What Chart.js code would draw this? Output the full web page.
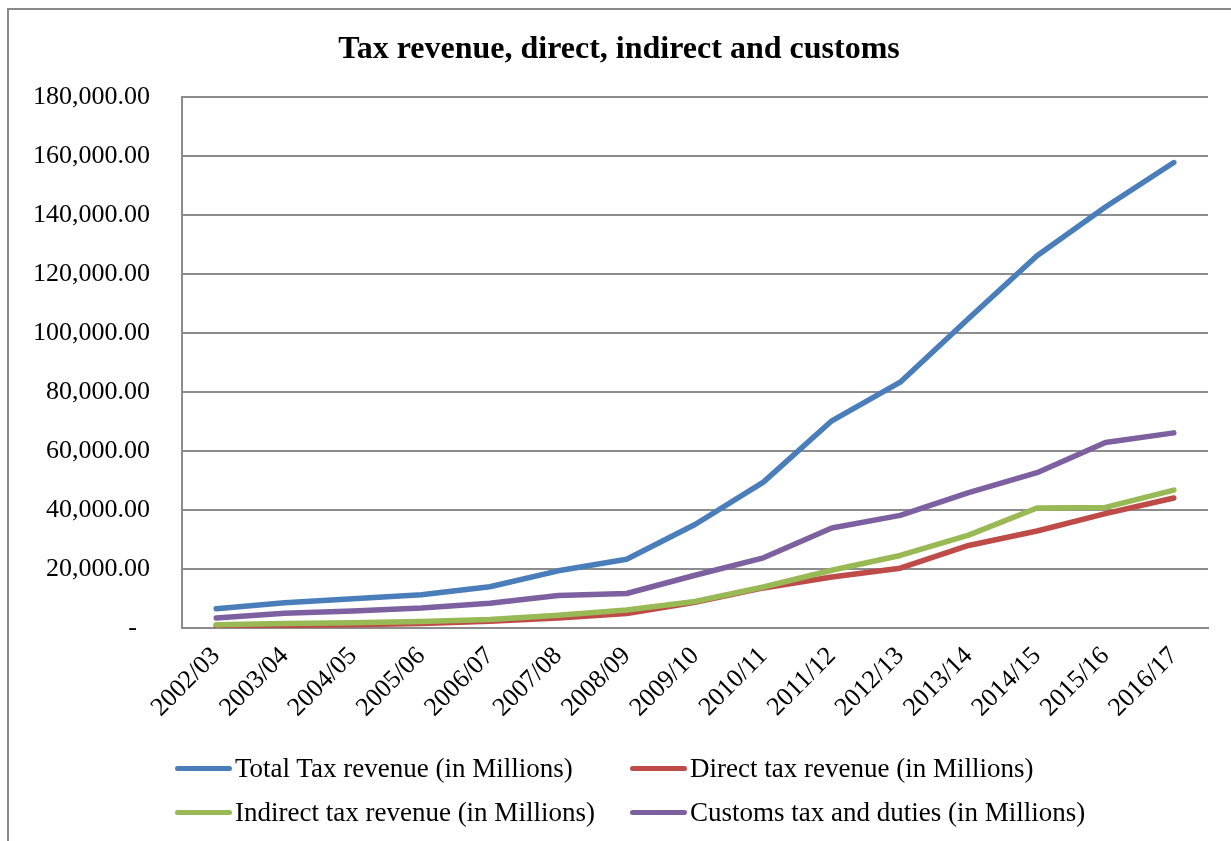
<!DOCTYPE html>
<html>
<head>
<meta charset="utf-8">
<title>Tax revenue, direct, indirect and customs</title>
<script src="https://cdn.jsdelivr.net/npm/chart.js@4/dist/chart.umd.min.js"></script>
<style>
  html, body { margin: 0; padding: 0; background: #fff; overflow: hidden; }
  #wrap { position: relative; width: 1231px; height: 841px; overflow: hidden; }
  #frame {
    position: absolute; left: 7px; top: 8px; width: 1300px; height: 900px;
    border: 2px solid #898989; box-sizing: border-box;
  }
  #chart { position: absolute; left: 0; top: 0; }
  #legend {
    position: absolute; left: 175px; top: 746px;
    display: grid; grid-template-columns: 455px 455px;
    font-family: "Liberation Serif", "Times New Roman", serif;
    font-size: 27px; color: #000;
  }
  .legend-item { display: flex; align-items: center; height: 44px; white-space: nowrap; }
  .legend-swatch { width: 57px; height: 5px; border-radius: 3px; margin-right: 3px; flex: none; }
</style>
</head>
<body>
<div id="wrap">
  <div id="frame"></div>
  <canvas id="chart" width="1231" height="841"></canvas>
  <div id="legend"></div>
</div>
<script>
const CATEGORIES = [
    "2002/03", "2003/04", "2004/05", "2005/06", "2006/07", "2007/08", "2008/09", "2009/10",
    "2010/11", "2011/12", "2012/13", "2013/14", "2014/15", "2015/16", "2016/17",
];
const TOTAL_TAX = [6500, 8600, 9900, 11300, 14000, 19400, 23300, 35100, 49500, 70300, 83400, 105000, 126300, 142800, 157900];
const DIRECT_TAX = [700, 900, 1100, 1500, 2300, 3400, 4900, 8700, 13600, 17300, 20300, 28000, 32900, 38800, 44100];
const INDIRECT_TAX = [1100, 1500, 1800, 2200, 2900, 4300, 6100, 9000, 13900, 19600, 24600, 31500, 40700, 40900, 46800];
const CUSTOMS_TAX = [3400, 5000, 5800, 6800, 8400, 11000, 11700, 17900, 23800, 33900, 38200, 45900, 52700, 62900, 66200];

const Y_MAX = 180000;
const Y_STEP = 20000;

const TITLE = "Tax revenue, direct, indirect and customs";
const GRID_GRAY = "#8c8c8c";
const SERIF = '"Liberation Serif", "Times New Roman", serif';

// later series sit on top, like the spreadsheet draws them
const SERIES = [
    { label: "Total Tax revenue (in Millions)", data: TOTAL_TAX, color: "#4a7ebb", order: 4 },
    { label: "Direct tax revenue (in Millions)", data: DIRECT_TAX, color: "#be4b48", order: 3 },
    { label: "Indirect tax revenue (in Millions)", data: INDIRECT_TAX, color: "#98b954", order: 2 },
    { label: "Customs tax and duties (in Millions)", data: CUSTOMS_TAX, color: "#7d60a0", order: 1 },
];

function formatTick(value) {
    if (value === 0) return "-  ";
    return value.toLocaleString("en-US", { minimumFractionDigits: 2, maximumFractionDigits: 2 });
}

function renderLegend(series) {
    return series.map(s => `
        <div class="legend-item">
            <span class="legend-swatch" style="background:${s.color}"></span>
            <span>${s.label}</span>
        </div>
    `).join("");
}

Chart.defaults.font.family = SERIF;
Chart.defaults.color = "#000";

new Chart(document.getElementById("chart"), {
    type: "line",
    data: {
        labels: CATEGORIES,
        datasets: SERIES.map(s => ({
            label: s.label,
            data: s.data,
            order: s.order,
            borderColor: s.color,
            backgroundColor: s.color,
            borderWidth: 5.5,
            borderCapStyle: "round",
            borderJoinStyle: "round",
            pointRadius: 0,
            tension: 0,
            fill: false,
        })),
    },
    options: {
        responsive: false,
        animation: false,
        layout: { padding: { left: 30, right: 23, top: 0, bottom: 103 } },
        plugins: {
            legend: { display: false },
            tooltip: { enabled: false },
            title: {
                display: true,
                text: TITLE,
                color: "#000",
                font: { size: 32, weight: "bold" },
                padding: { top: 31, bottom: 28 },
            },
        },
        scales: {
            x: {
                offset: true,
                grid: { display: false, drawTicks: false },
                border: { display: true, color: GRID_GRAY, width: 2 },
                ticks: {
                    autoSkip: false,
                    minRotation: 45,
                    maxRotation: 45,
                    padding: 13,
                    font: { size: 26 },
                },
                afterFit: scale => { scale.height = 110; },
            },
            y: {
                min: 0,
                max: Y_MAX,
                grid: { color: GRID_GRAY, lineWidth: 2, drawTicks: false },
                border: { display: true, color: GRID_GRAY, width: 2 },
                ticks: {
                    stepSize: Y_STEP,
                    padding: 32,
                    font: { size: 26 },
                    callback: formatTick,
                },
                afterFit: scale => { scale.width = 152; },
            },
        },
    },
});

document.getElementById("legend").innerHTML = renderLegend(SERIES);
</script>
</body>
</html>
